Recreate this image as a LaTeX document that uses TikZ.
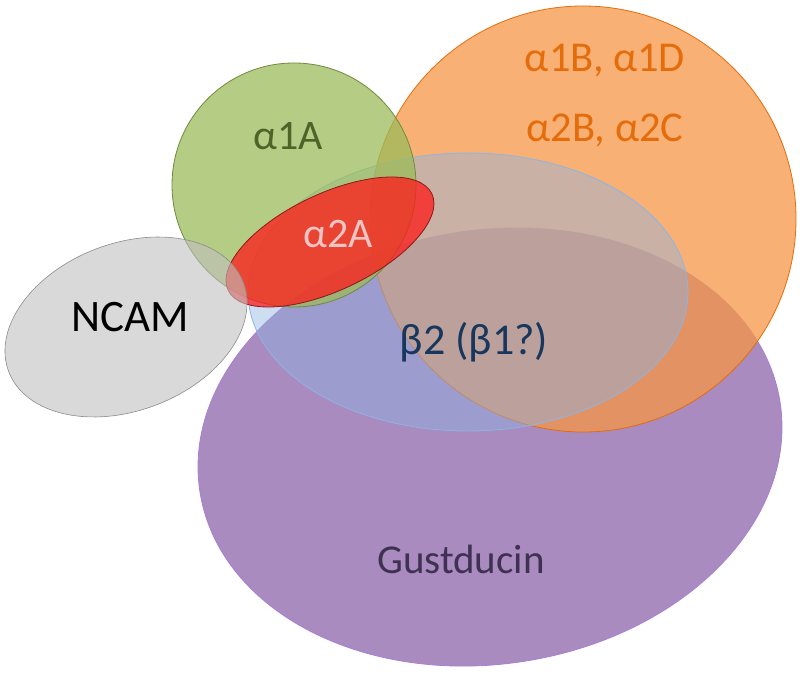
\documentclass[tikz,border=0pt]{standalone}
\usepackage{fontspec}
\setmainfont{Carlito}
\usepackage{tikz}
\definecolor{gustfill}{HTML}{8C64AA}
\definecolor{gustline}{HTML}{A77FD6}
\definecolor{orfill}{HTML}{F79646}
\definecolor{orline}{HTML}{E46C0A}
\definecolor{betafill}{HTML}{8DB4E3}
\definecolor{betaline}{HTML}{8DB4E3}
\definecolor{grfill}{HTML}{9BBB59}
\definecolor{grline}{HTML}{71893F}
\definecolor{rdfill}{HTML}{FF1A1A}
\definecolor{rdline}{HTML}{8B1A1A}
\definecolor{ncfill}{HTML}{BFBFBF}
\definecolor{ncline}{HTML}{8C8C8C}
\definecolor{ortext}{HTML}{E46C0A}
\definecolor{grtext}{HTML}{4F6228}
\definecolor{rdtext}{HTML}{F2C4C4}
\definecolor{betatext}{HTML}{17375E}
\definecolor{gusttext}{HTML}{3F3151}

\begin{document}
\begin{tikzpicture}[x=1pt,y=1pt,
    blob/.style={line width=0.8pt,fill opacity=0.75},
    lab/.style={anchor=base,inner sep=0pt}]
  \useasboundingbox (0,0) rectangle (800,675);
  % sets, back to front
  \draw[blob,draw=gustline,fill=gustfill,rotate around={8.7:(490,228)}] (490,228) ellipse [x radius=293.5,y radius=217];
  \draw[blob,draw=orline,fill=orfill] (583,456) circle [radius=213];
  \draw[blob,draw=betaline,fill=betafill,fill opacity=0.44] (468,383) ellipse [x radius=220,y radius=139];
  \draw[blob,draw=grline,fill=grfill] (294,490) circle [radius=122];
  \draw[blob,draw=rdline,fill=rdfill,rotate around={25.3:(330,433)}] (330,433) ellipse [x radius=112.7,y radius=48.3];
  \draw[blob,draw=ncline,fill=ncfill,fill opacity=0.6,line width=0.6pt,rotate around={20.8:(126,348)}] (126,348) ellipse [x radius=125.5,y radius=83.6];
  % labels
  \node[lab,font=\fontsize{42.5}{50}\selectfont,text=ortext] (a1bd) at (605,603) {α1B, α1D};
  \node[lab,font=\fontsize{42.5}{50}\selectfont,text=ortext] (a2bc) at (605,533) {α2B, α2C};
  \node[lab,font=\fontsize{42}{50}\selectfont,text=grtext] (a1a) at (288,525) {α1A};
  \node[lab,font=\fontsize{42}{50}\selectfont,text=rdtext] (a2a) at (338,427) {α2A};
  \node[lab,font=\fontsize{45}{54}\selectfont] (ncam) at (130,343) {NCAM};
  \node[lab,font=\fontsize{44}{52}\selectfont,text=betatext] (beta) at (474,320) {β2 (β1?)};
  \node[lab,font=\fontsize{41}{50}\selectfont,text=gusttext] (gust) at (461,102) {Gustducin};
\end{tikzpicture}
\end{document}
